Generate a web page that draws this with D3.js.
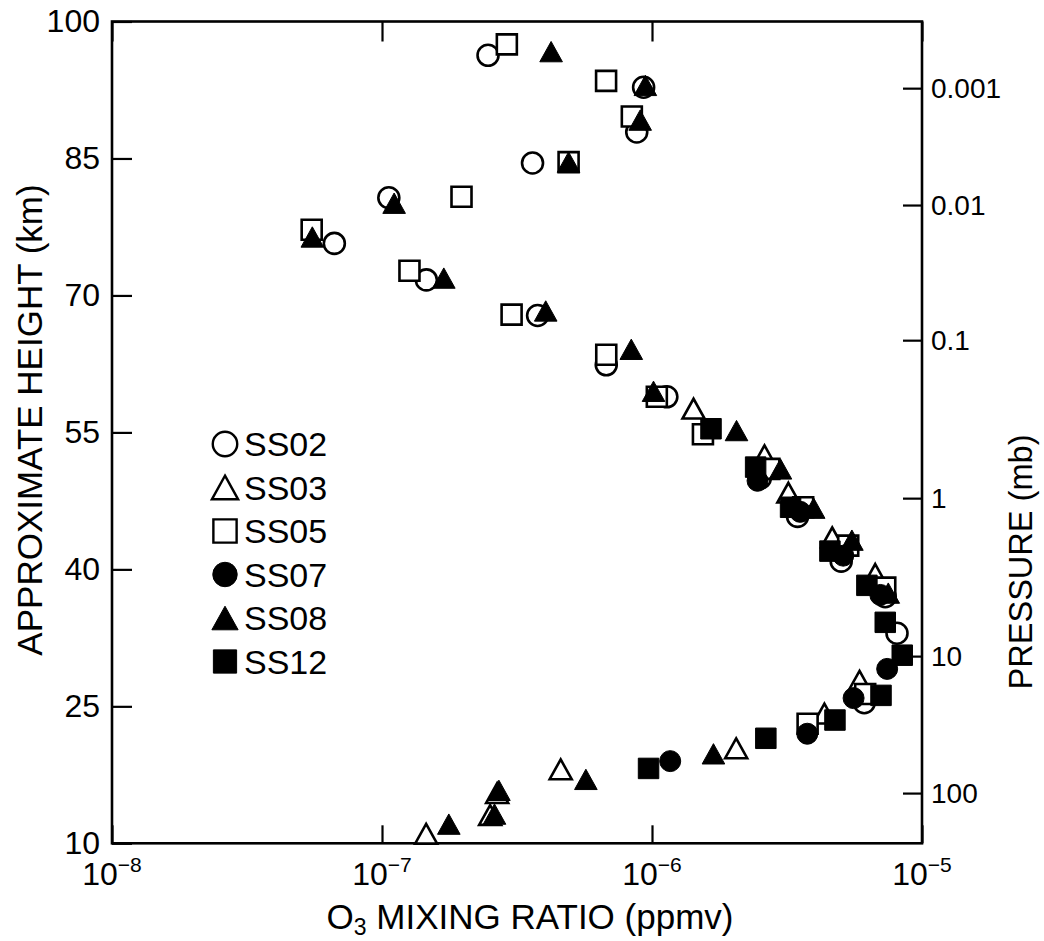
<!DOCTYPE html>
<html><head><meta charset="utf-8">
<script src="https://cdn.jsdelivr.net/npm/d3@7"></script>
<style>
body{margin:0;background:#fff}
svg{display:block}
text{font-family:"Liberation Sans",Arial,Helvetica,sans-serif;fill:#000}
</style>
</head><body>
<svg id="chart" width="1044" height="941"></svg>
<script>
// ---- data ----
const seriesNames = ["SS02","SS03","SS05","SS07","SS08","SS12"];

const ss02Mix = [2.47e-7,9.31e-7,8.78e-7,3.61e-7,1.06e-7,6.66e-8,1.46e-7,3.77e-7,6.77e-7,1.135e-6,2.52e-6,3.46e-6,5.02e-6,7.31e-6,8.08e-6,6.11e-6];
const ss02Km  = [96.3,92.8,87.9,84.5,80.7,75.7,71.7,67.8,62.4,58.9,50.0,45.8,40.9,37.0,33.0,25.4];

const ss03Mix = [1.425e-6,2.61e-6,3.20e-6,4.65e-6,6.71e-6,5.87e-6,4.35e-6,2.05e-6,4.59e-7,2.67e-7,2.515e-7,1.457e-7];
const ss03Km  = [57.6,52.5,48.4,43.5,39.5,27.8,24.2,20.4,18.1,15.5,13.1,11.05];

const ss05Mix = [2.90e-7,6.76e-7,8.42e-7,4.91e-7,1.97e-7,5.49e-8,1.264e-7,3.02e-7,6.77e-7,1.042e-6,1.544e-6,2.72e-6,3.63e-6,5.33e-6,7.31e-6,6.16e-6,3.77e-6];
const ss05Km  = [97.5,93.5,89.6,84.6,80.8,77.2,72.7,67.9,63.5,58.9,54.8,51.0,46.8,42.6,38.0,26.35,23.1];

const ss07Mix = [2.46e-6,3.54e-6,5.11e-6,7.01e-6,7.43e-6,5.58e-6,3.76e-6,1.168e-6];
const ss07Km  = [49.7,46.3,41.5,37.2,29.1,25.9,22.0,19.0];

const ss08Mix = [4.23e-7,9.45e-7,9.04e-7,4.91e-7,1.109e-7,5.52e-8,1.694e-7,4.04e-7,8.38e-7,1.013e-6,2.056e-6,2.99e-6,3.97e-6,5.50e-6,7.50e-6,1.689e-6,5.69e-7,2.71e-7,2.61e-7,1.768e-7];
const ss08Km  = [96.7,93.0,89.2,84.6,80.1,76.4,71.9,68.3,64.1,59.5,55.2,51.0,46.7,43.2,37.4,19.8,17.0,15.8,13.2,12.1];

const ss12Mix = [1.654e-6,2.42e-6,3.26e-6,4.56e-6,6.25e-6,7.31e-6,8.45e-6,7.05e-6,4.76e-6,2.64e-6,9.71e-7];
const ss12Km  = [55.4,51.2,46.8,42.0,38.25,34.2,30.6,26.2,23.5,21.5,18.2];

const heightTicks = [10,25,40,55,70,85,100];
const mixTicks = [1e-8,1e-7,1e-6,1e-5];
const mixTickExp = ["\u22128","\u22127","\u22126","\u22125"];
const pressureLabels = ["0.001","0.01","0.1","1","10","100"];
const pressureKm = [92.7,79.9,65.1,47.8,30.5,15.5];

// ---- layout ----
const svg = d3.select("#chart");
const L = 112, R = 922, T = 21.5, B = 843.3;
const x = d3.scaleLog().domain([1e-8,1e-5]).range([L,R]);
const y = d3.scaleLinear().domain([10,100]).range([B,T]);

// bbox-centred up-pointing triangle
const triUp = {draw(ctx,size){const w=Math.sqrt(size/0.45),h=0.9*w;ctx.moveTo(0,-h/2);ctx.lineTo(w/2,h/2);ctx.lineTo(-w/2,h/2);ctx.closePath();}};

const styles = {
  SS02:{type:d3.symbolCircle, filled:false, size:346, lsize:470},
  SS03:{type:triUp, filled:false, size:218, lsize:310},
  SS05:{type:d3.symbolSquare, filled:false, size:400, lsize:540},
  SS07:{type:d3.symbolCircle, filled:true, size:346, lsize:470},
  SS08:{type:triUp, filled:true, size:230, lsize:310},
  SS12:{type:d3.symbolSquare, filled:true, size:420, lsize:540}
};
const seriesData = {
  SS02: d3.zip(ss02Mix, ss02Km), SS03: d3.zip(ss03Mix, ss03Km), SS05: d3.zip(ss05Mix, ss05Km),
  SS07: d3.zip(ss07Mix, ss07Km), SS08: d3.zip(ss08Mix, ss08Km), SS12: d3.zip(ss12Mix, ss12Km)
};

// axes
const gL = svg.append("g").attr("transform",`translate(${L},0)`)
  .call(d3.axisLeft(y).tickValues(heightTicks).tickSize(-20).tickPadding(12).tickFormat(d3.format("d")));
gL.selectAll("text").style("font-size","32px");

const gB = svg.append("g").attr("transform",`translate(0,${B})`)
  .call(d3.axisBottom(x).tickValues(mixTicks).tickSize(-18).tickFormat(""));
const gT = svg.append("g").attr("transform",`translate(0,${T})`)
  .call(d3.axisTop(x).tickValues(mixTicks).tickSize(-20).tickFormat(""));
const gR = svg.append("g").attr("transform",`translate(${R},0)`)
  .call(d3.axisRight(y).tickValues(pressureKm).tickSize(-19).tickPadding(9)
    .tickFormat((d,i)=>pressureLabels[i]));
gR.selectAll("text").style("font-size","28px");
svg.selectAll(".domain").remove();
svg.selectAll(".tick line").attr("stroke","#000").attr("stroke-width",2.2);

// bottom labels 10^n
const bl = svg.append("g");
mixTicks.forEach((v,i)=>{
  const t = bl.append("text").attr("x",x(v)).attr("y",885).attr("text-anchor","middle").style("font-size","32px");
  t.append("tspan").text("10");
  t.append("tspan").attr("dy",-13).style("font-size","21px").text(mixTickExp[i]);
});

// frame
svg.append("rect").attr("x",L).attr("y",T).attr("width",R-L).attr("height",B-T)
  .attr("fill","none").attr("stroke","#000").attr("stroke-width",2.6);

// titles
const xt = svg.append("text").attr("x",530).attr("y",929).attr("text-anchor","middle").style("font-size","35px");
xt.append("tspan").text("O");
xt.append("tspan").attr("dy",6).style("font-size","23px").text("3");
xt.append("tspan").attr("dy",-6).text(" MIXING RATIO (ppmv)");

svg.append("text").attr("transform","translate(42,420) rotate(-90)").attr("text-anchor","middle")
  .style("font-size","35px").text("APPROXIMATE HEIGHT (km)");
svg.append("text").attr("transform","translate(1032,562) rotate(-90)").attr("text-anchor","middle")
  .style("font-size","34px").attr("textLength",255).attr("lengthAdjust","spacingAndGlyphs").text("PRESSURE (mb)");

// markers
const plot = svg.append("g");
seriesNames.forEach(name=>{
  const st = styles[name];
  plot.append("g").selectAll("path").data(seriesData[name]).join("path")
    .attr("transform",d=>`translate(${x(d[0])},${y(d[1])})`)
    .attr("d",d3.symbol().type(st.type).size(st.size)())
    .attr("fill",st.filled?"#000":"#fff")
    .attr("stroke","#000").attr("stroke-width",st.filled?1:2.6);
});

// legend
const lg = svg.append("g");
seriesNames.forEach((name,i)=>{
  const st = styles[name], cy = 444 + i*43.5;
  lg.append("path").attr("transform",`translate(225,${cy})`)
    .attr("d",d3.symbol().type(st.type).size(st.lsize)())
    .attr("fill",st.filled?"#000":"#fff").attr("stroke","#000").attr("stroke-width",st.filled?1:2.4);
  lg.append("text").attr("x",244).attr("y",cy+12).style("font-size","34px").text(name);
});
</script>
</body></html>
